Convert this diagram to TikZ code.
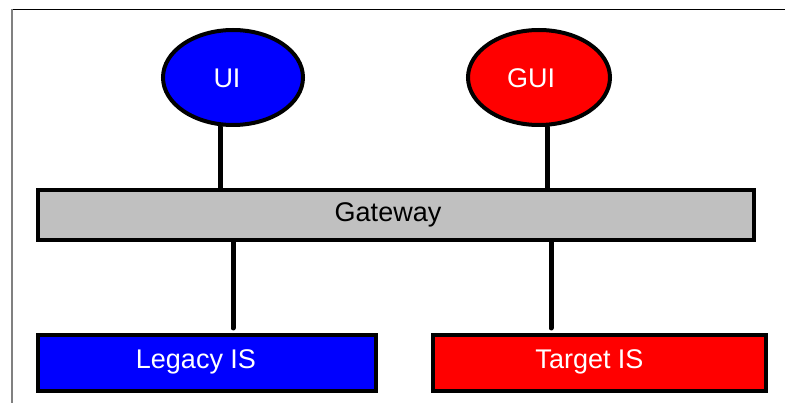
\documentclass[tikz,border=0pt]{standalone}
\usepackage{fontspec}
\setmainfont{Liberation Sans}
\usetikzlibrary{shapes.geometric}
\definecolor{pblue}{HTML}{0000FF}
\definecolor{pred}{HTML}{FF0000}
\definecolor{pgray}{HTML}{C0C0C0}
\tikzset{
  ovalbox/.style={ellipse, draw=black, line width=4pt, minimum width=140pt, minimum height=95pt, inner sep=0pt},
  rectbox/.style={rectangle, draw=black, line width=4pt, inner sep=0pt},
  lbl/.style={font=\fontsize{27}{30}\selectfont, text height=19.3pt, text depth=0pt, inner sep=0pt},
  conn/.style={line width=5pt, line cap=round},
}
\begin{document}
\begin{tikzpicture}[x=1pt,y=-1pt]
\useasboundingbox (0,0) rectangle (785,403);
% frame
\draw[black, line width=1.2pt] (12,9.5) -- (785,9.5);
\draw[gray, line width=1.2pt] (12,9.5) -- (12,403);
% shapes
\node[ovalbox, fill=pblue, label={[lbl, text=white, xshift=-6pt]center:UI}] (ui) at (233,77.5) {};
\node[ovalbox, fill=pred, minimum width=142pt, label={[lbl, text=white, xshift=-8pt]center:GUI}] (gui) at (539,77.5) {};
\node[rectbox, fill=pgray, minimum width=716pt, minimum height=50pt, label={[lbl, text=black, xshift=-8pt, yshift=3pt]center:Gateway}] (gw) at (396,215) {};
\node[rectbox, fill=pblue, minimum width=338pt, minimum height=56pt, label={[lbl, text=white, xshift=-11pt, yshift=4pt]center:Legacy IS}] (leg) at (207,363) {};
\node[rectbox, fill=pred, minimum width=333pt, minimum height=56pt, label={[lbl, text=white, xshift=-10pt, yshift=4pt]center:Target IS}] (tgt) at (599.5,363) {};
% connector columns
\coordinate (c1) at (220,0);
\coordinate (c2) at (547,0);
\coordinate (c3) at (233,0);
\coordinate (c4) at (551,0);
\draw[conn] (ui.south -| c1) -- (gw.north -| c1);
\draw[conn] (gui.south -| c2) -- (gw.north -| c2);
\draw[conn] (gw.south -| c3) -- ([yshift=5pt]leg.north -| c3);
\draw[conn] (gw.south -| c4) -- ([yshift=5pt]tgt.north -| c4);
\end{tikzpicture}
\end{document}
